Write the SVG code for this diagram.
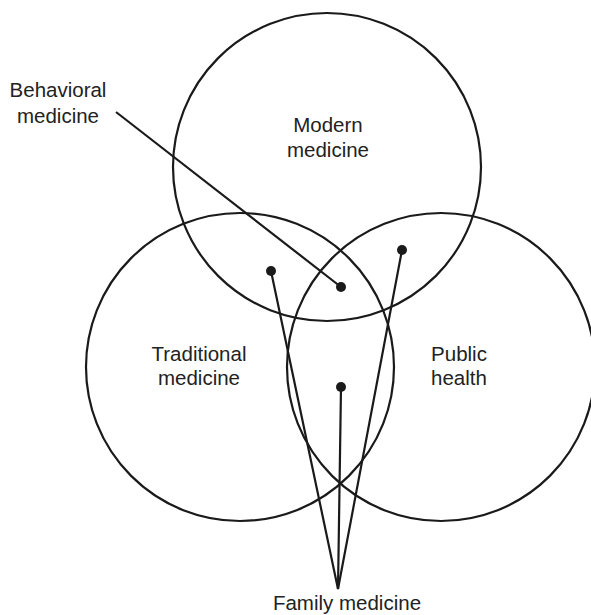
<svg xmlns="http://www.w3.org/2000/svg" width="591" height="615" viewBox="0 0 591 615">
  <style>
    .ring { fill: none; stroke: #1a1a1a; stroke-width: 2.2; }
    .lead { fill: none; stroke: #1a1a1a; stroke-width: 2.2; }
    .dot { fill: #1a1a1a; }
    text { font-family: "Liberation Sans", Arial, sans-serif; font-size: 20.5px; fill: #222; text-anchor: middle; }
  </style>
  <rect width="591" height="615" fill="#fff"/>

  <g id="modern-medicine">
    <circle class="ring" cx="327" cy="167" r="154"/>
    <text x="328" y="132">Modern</text>
    <text x="328" y="157">medicine</text>
  </g>

  <g id="traditional-medicine">
    <circle class="ring" cx="240" cy="367" r="154"/>
    <text x="199" y="361">Traditional</text>
    <text x="199" y="385">medicine</text>
  </g>

  <g id="public-health">
    <circle class="ring" cx="441" cy="367" r="154"/>
    <text x="459" y="361">Public</text>
    <text x="459" y="385">health</text>
  </g>

  <g id="behavioral-medicine">
    <text x="58" y="97">Behavioral</text>
    <text x="58" y="123">medicine</text>
  </g>

  <g id="family-medicine">
    <text x="347" y="610">Family medicine</text>
  </g>

  <g id="connectors">
    <line class="lead" x1="116" y1="112" x2="341" y2="287"/>
    <circle class="dot" cx="341" cy="287" r="5"/>
    <polyline class="lead" points="271,271 338,589 402,250"/>
    <line class="lead" x1="341" y1="387" x2="338" y2="589"/>
    <circle class="dot" cx="271" cy="271" r="5"/>
    <circle class="dot" cx="402" cy="250" r="5"/>
    <circle class="dot" cx="341" cy="387" r="5"/>
  </g>
</svg>
